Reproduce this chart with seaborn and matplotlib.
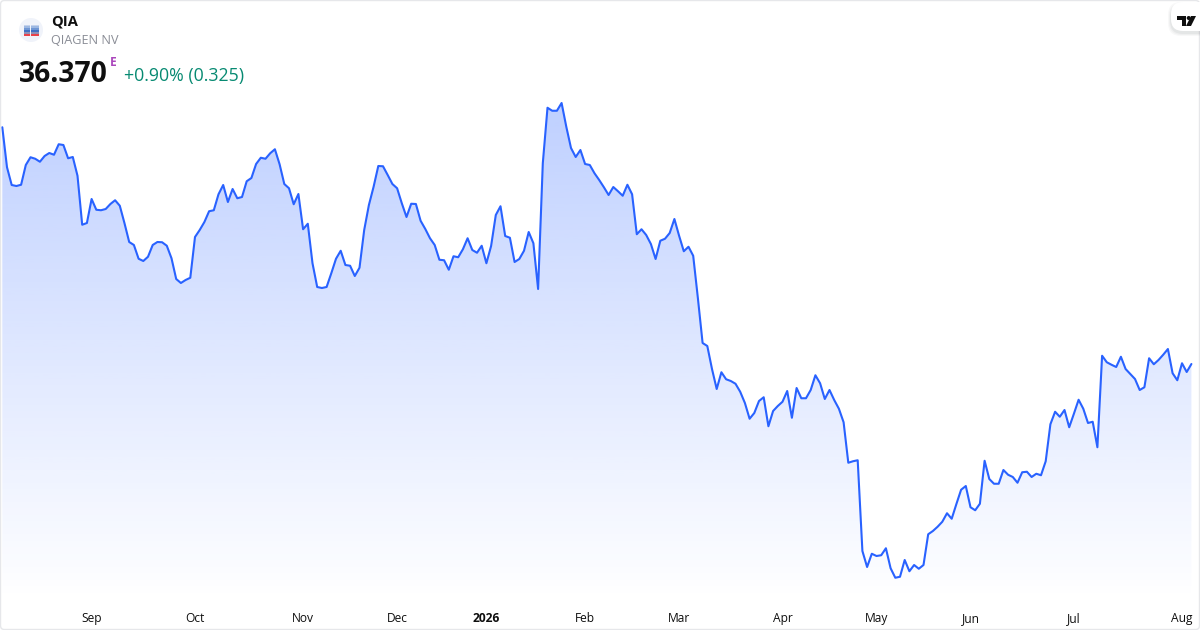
import matplotlib
matplotlib.use("Agg")
import matplotlib.pyplot as plt
from matplotlib.patches import Circle, FancyBboxPatch, Polygon
import numpy as np
import pandas as pd
import seaborn as sns

# daily closes, QIA
closes = [
    45.84, 44.24, 43.53, 43.49, 43.54, 44.33, 44.64, 44.58, 44.46, 44.69,
    44.81, 44.74, 45.16, 45.13, 44.60, 44.65, 43.90, 41.94, 42.01, 42.97,
    42.54, 42.52, 42.57, 42.77, 42.92, 42.70, 42.00, 41.25, 41.13, 40.58,
    40.49, 40.66, 41.13, 41.25, 41.24, 41.10, 40.60, 39.77, 39.61, 39.73,
    39.82, 41.45, 41.73, 42.05, 42.48, 42.52, 43.16, 43.53, 42.85, 43.37,
    43.00, 43.05, 43.68, 43.81, 44.37, 44.62, 44.58, 44.80, 44.96, 44.36,
    43.57, 43.40, 42.76, 43.17, 41.76, 41.98, 40.40, 39.45, 39.41, 39.45,
    40.00, 40.58, 40.90, 40.33, 40.30, 39.89, 40.22, 41.73, 42.73, 43.46,
    44.29, 44.28, 43.93, 43.57, 43.40, 42.80, 42.25, 42.78, 42.77, 42.10,
    41.77, 41.40, 41.13, 40.54, 40.52, 40.14, 40.68, 40.64, 40.96, 41.40,
    40.93, 40.82, 41.10, 40.40, 41.09, 42.33, 42.68, 41.49, 41.42, 40.45,
    40.57, 40.90, 41.65, 41.20, 39.37, 44.40, 46.62, 46.50, 46.50, 46.81,
    45.86, 45.01, 44.65, 44.93, 44.37, 44.33, 44.00, 43.73, 43.44, 43.13,
    43.45, 43.28, 43.10, 43.54, 43.16, 41.56, 41.76, 41.53, 41.17, 40.57,
    41.30, 41.38, 41.61, 42.17, 41.50, 40.88, 41.06, 40.70, 39.00, 37.21,
    37.09, 36.17, 35.37, 36.04, 35.76, 35.69, 35.58, 35.26, 34.81, 34.18,
    34.41, 34.89, 35.04, 33.88, 34.49, 34.69, 34.86, 35.29, 34.22, 35.41,
    35.00, 35.00, 35.33, 35.92, 35.60, 34.97, 35.33, 34.93, 34.58, 34.04,
    32.42, 32.48, 32.52, 28.89, 28.25, 28.78, 28.69, 28.72, 29.00, 28.20,
    27.82, 27.86, 28.53, 28.08, 28.33, 28.18, 28.33, 29.56, 29.69, 29.86,
    30.06, 30.40, 30.18, 30.77, 31.34, 31.49, 30.64, 30.52, 30.78, 32.50,
    31.77, 31.58, 31.58, 32.13, 31.94, 31.85, 31.62, 32.04, 32.06, 31.85,
    31.98, 31.92, 32.48, 33.96, 34.46, 34.26, 34.53, 33.84, 34.38, 34.94,
    34.58, 34.01, 34.06, 33.04, 36.70, 36.44, 36.34, 36.25, 36.66, 36.17,
    35.97, 35.77, 35.33, 35.44, 36.60, 36.36, 36.53, 36.74, 36.97, 36.00,
    35.72, 36.40, 36.05, 36.37,
]
# row number of the first trading day of each month
month_rows = [19, 41, 64, 84, 103, 124, 144, 166, 186, 206, 228, 251]
month_labels = ["Sep", "Oct", "Nov", "Dec", "2026", "Feb", "Mar", "Apr", "May", "Jun", "Jul", "Aug"]

LINE = "#2962FF"
INK = "#0F0F0F"

sns.set_theme(style="white")
plt.rcParams["font.family"] = ["Open Sans", "Noto Sans", "DejaVu Sans"]

df = pd.DataFrame({"row": range(len(closes)), "close": closes})

fig = plt.figure(figsize=(12, 6.3), dpi=100, facecolor="white")
ax = fig.add_axes([0, 30 / 630, 1, 600 / 630])
ax.set_xlim(-0.489, 254.83)
ax.set_ylim(26.93, 50.93)

# gradient under the line, clipped to the area
area = ax.fill_between(df["row"], df["close"], 26.93, color="none")
grad = np.zeros((256, 1, 4))
grad[:, :, :3] = matplotlib.colors.to_rgb(LINE)
grad[:, 0, 3] = np.linspace(0.30, 0.0, 256)
img = ax.imshow(grad, aspect="auto", origin="upper", zorder=1, interpolation="bilinear",
                extent=[0, len(closes) - 1, 26.93, max(closes)])
img.set_clip_path(area.get_paths()[0], transform=ax.transData)
ax.set_xlim(-0.489, 254.83)
ax.set_ylim(26.93, 50.93)

sns.lineplot(data=df, x="row", y="close", color=LINE, linewidth=1.5, ax=ax, zorder=3)

ax.set_xlabel("")
ax.set_ylabel("")
ax.set_yticks([])
ax.set_xticks(month_rows)
ax.set_xticklabels(month_labels)
ax.tick_params(axis="x", length=0, pad=8.9, labelsize=8.64, labelcolor=INK)
for lab in ax.get_xticklabels():
    if lab.get_text() == "2026":
        lab.set_fontweight("bold")
sns.despine(ax=ax, left=True, bottom=True)

# header, logo and frame in pixel coordinates
top = fig.add_axes([0, 0, 1, 1], facecolor="none")
top.set_xlim(0, 1200)
top.set_ylim(630, 0)
top.axis("off")

top.add_patch(FancyBboxPatch((0.5, 0.5), 1199, 629, boxstyle="round,pad=0,rounding_size=4",
                             fc="none", ec="#E6E7EA", lw=1.0))

top.add_patch(Circle((31, 30), 12, fc="#F0F3FA", ec="none"))
for r, c in enumerate(["#C4D2EC", "#9DB8E2", "#6F96D4", "#3F70C4", "#8C8FB8", "#E8414A"]):
    top.scatter(np.arange(25, 38.5, 2.2), [25.5 + r * 1.9] * 7, s=1.1, c=c, marker="s", linewidths=0)

top.text(51, 21, "QIA", fontsize=10.6, fontweight="bold", color=INK, va="center", ha="left")
top.text(51, 40.5, "QIAGEN NV", fontsize=9.1, color="#8A8D96", va="center", ha="left")
top.text(19, 81.5, "36.370", fontsize=20.4, fontweight="bold", color=INK, va="baseline", ha="left")
top.text(109.5, 66, "E", fontsize=8.6, fontweight="bold", color="#AB47BC", va="baseline", ha="left")
top.text(124, 80.5, "+0.90% (0.325)", fontsize=12.8, color="#078A72", va="baseline", ha="left")

# TradingView badge, soft shadow then white pill
for grow, shade in [(3, 0.03), (2, 0.04), (1, 0.05)]:
    top.add_patch(FancyBboxPatch((1171 - grow, 3 + 2 - grow), 42 + grow, 28 + 2 * grow,
                                 boxstyle="round,pad=0,rounding_size=13", fc="#2A2E39", ec="none", alpha=shade))
top.add_patch(FancyBboxPatch((1171, 2), 42, 29, boxstyle="round,pad=0,rounding_size=12",
                             fc="white", ec="none"))
top.add_patch(Polygon([(1177, 16), (1186, 16), (1186, 26), (1182, 26), (1182, 20), (1177, 20)], fc="#0F0F0F", ec="none"))
top.add_patch(Circle((1188.7, 18), 2, fc="#0F0F0F", ec="none"))
top.add_patch(Polygon([(1191, 16), (1196, 16), (1191, 26), (1186, 26)], fc="#0F0F0F", ec="none"))
top.set_xlim(0, 1200)
top.set_ylim(630, 0)

fig.savefig("out.png", dpi=100)
